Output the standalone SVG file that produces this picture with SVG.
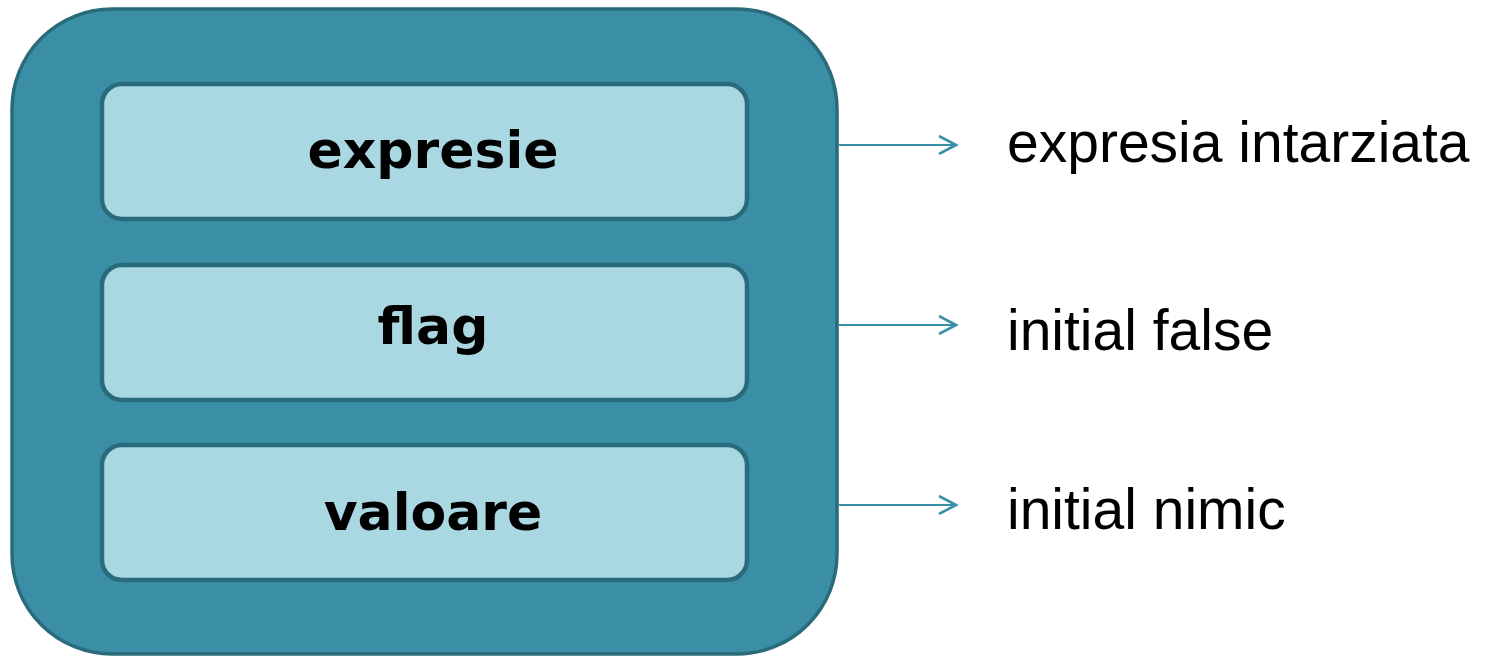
<svg xmlns="http://www.w3.org/2000/svg" width="1492" height="657" viewBox="0 0 1492 657">
  <defs>
    <style>
      .outer { fill: #3a8fa6; stroke: #296b7b; stroke-width: 3.5; }
      .inner { fill: #a9d8e2; stroke: #296b7b; stroke-width: 4.5; }
      .lbl { font-family: "DejaVu Sans", "Liberation Sans", sans-serif; font-weight: bold; font-size: 52px; fill: #000; text-anchor: middle; }
      .note { font-family: "Liberation Sans", Arial, sans-serif; font-size: 57px; fill: #000; }
      .conn { stroke: #3a90a6; stroke-width: 2.2; fill: none; }
    </style>
    <marker id="arr" viewBox="0 0 20 20" refX="18" refY="10" markerWidth="20" markerHeight="20" markerUnits="userSpaceOnUse" orient="auto">
      <path d="M1,1 L18,10 L1,19" fill="none" stroke="#3a90a6" stroke-width="2.6"/>
    </marker>
  </defs>
  <g id="container">
    <rect class="outer" x="12" y="9" width="825" height="645" rx="100" ry="100"/>
  </g>
  <g id="node-expresie">
    <rect class="inner" x="102" y="84" width="645" height="135" rx="20" ry="20"/>
    <text class="lbl" x="433" y="168">expresie</text>
  </g>
  <g id="node-flag">
    <rect class="inner" x="102" y="265" width="645" height="135" rx="20" ry="20"/>
    <text class="lbl" x="433" y="344">flag</text>
  </g>
  <g id="node-valoare">
    <rect class="inner" x="102" y="445" width="645" height="135" rx="20" ry="20"/>
    <text class="lbl" x="433" y="530">valoare</text>
  </g>
  <g id="connectors">
    <line class="conn" x1="838" y1="145" x2="956" y2="145" marker-end="url(#arr)"/>
    <line class="conn" x1="838" y1="325" x2="956" y2="325" marker-end="url(#arr)"/>
    <line class="conn" x1="838" y1="505" x2="956" y2="505" marker-end="url(#arr)"/>
  </g>
  <g id="notes">
    <text class="note" x="1007" y="162">expresia intarziata</text>
    <text class="note" x="1007" y="350">initial false</text>
    <text class="note" x="1007" y="529">initial nimic</text>
  </g>
</svg>
